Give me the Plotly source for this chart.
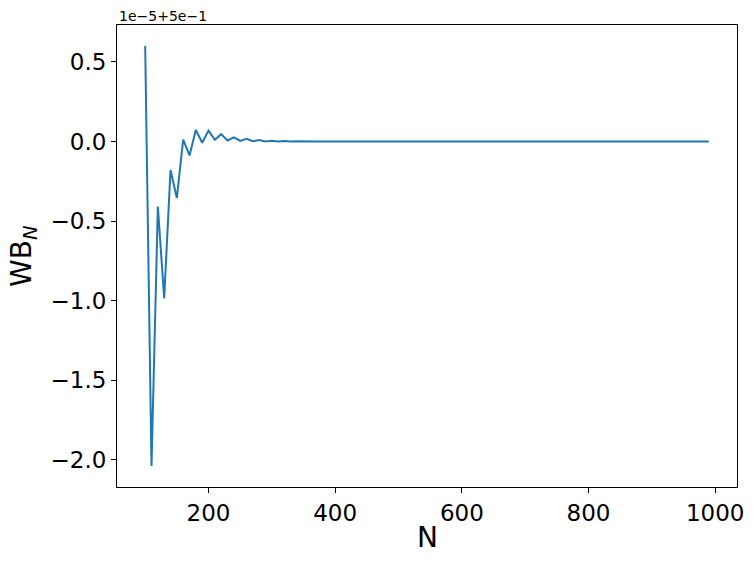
import plotly.graph_objects as go

# Data: N values and WB_N deviation, shown in units of 1e-5 around offset 0.5
N = list(range(100, 1000, 10))
wb_dev = [
    0.60, -2.04, -0.41, -0.985, -0.18, -0.355, 0.012, -0.088, 0.073, -0.008,
    0.068, 0.010, 0.046, 0.006, 0.026, 0.003, 0.016, 0.001, 0.009, 0.000,
    0.005, 0.000, 0.003, 0.000, 0.002, 0.000, 0.001, 0.000, 0.000, 0.000,
    0.0, 0.0, 0.0, 0.0, 0.0, 0.0, 0.0, 0.0, 0.0, 0.0,
    0.0, 0.0, 0.0, 0.0, 0.0, 0.0, 0.0, 0.0, 0.0, 0.0,
    0.0, 0.0, 0.0, 0.0, 0.0, 0.0, 0.0, 0.0, 0.0, 0.0,
    0.0, 0.0, 0.0, 0.0, 0.0, 0.0, 0.0, 0.0, 0.0, 0.0,
    0.0, 0.0, 0.0, 0.0, 0.0, 0.0, 0.0, 0.0, 0.0, 0.0,
    0.0, 0.0, 0.0, 0.0, 0.0, 0.0, 0.0, 0.0, 0.0, 0.0,
]
offset_text = "1e\u22125+5e\u22121"
x_label = "N"
y_label = "WB<sub><i>N</i></sub>"

def padded(vals, frac=0.05):
    lo, hi = min(vals), max(vals)
    d = (hi - lo) * frac
    return [lo - d, hi + d]

fig = go.Figure()
fig.add_trace(go.Scatter(x=N, y=wb_dev, mode="lines",
                         line=dict(color="#1f77b4", width=2), showlegend=False))

font = "DejaVu Sans, Verdana, sans-serif"
axis_common = dict(showgrid=False, zeroline=False, showline=True, linecolor="black",
                   linewidth=1, mirror=True, ticks="outside", ticklen=5, tickwidth=1,
                   tickcolor="black", tickfont=dict(family=font, size=23, color="black"))

fig.update_layout(
    width=755, height=564,
    margin=dict(l=117, r=18, t=25, b=77),
    paper_bgcolor="white", plot_bgcolor="white",
    xaxis=dict(range=padded(N), dtick=200, tick0=0, **axis_common),
    yaxis=dict(range=padded(wb_dev), dtick=0.5, tick0=0, tickformat=".1f", **axis_common),
    annotations=[
        dict(text=x_label, xref="paper", yref="paper", x=0.5, y=-0.110,
             xanchor="center", yanchor="middle", showarrow=False,
             font=dict(family=font, size=28, color="black")),
        dict(text=y_label, xref="paper", yref="paper", x=-0.1516, y=0.5,
             xanchor="center", yanchor="middle", showarrow=False, textangle=-90,
             font=dict(family=font, size=28, color="black")),
        dict(text=offset_text, xref="paper", yref="paper", x=0.0, y=1.0195,
             xanchor="left", yanchor="middle", showarrow=False,
             font=dict(family=font, size=14, color="black")),
    ],
)

fig.write_html("out.html", config={"displayModeBar": False},
               post_script="document.body.style.margin='0';document.body.style.overflow='hidden';")
